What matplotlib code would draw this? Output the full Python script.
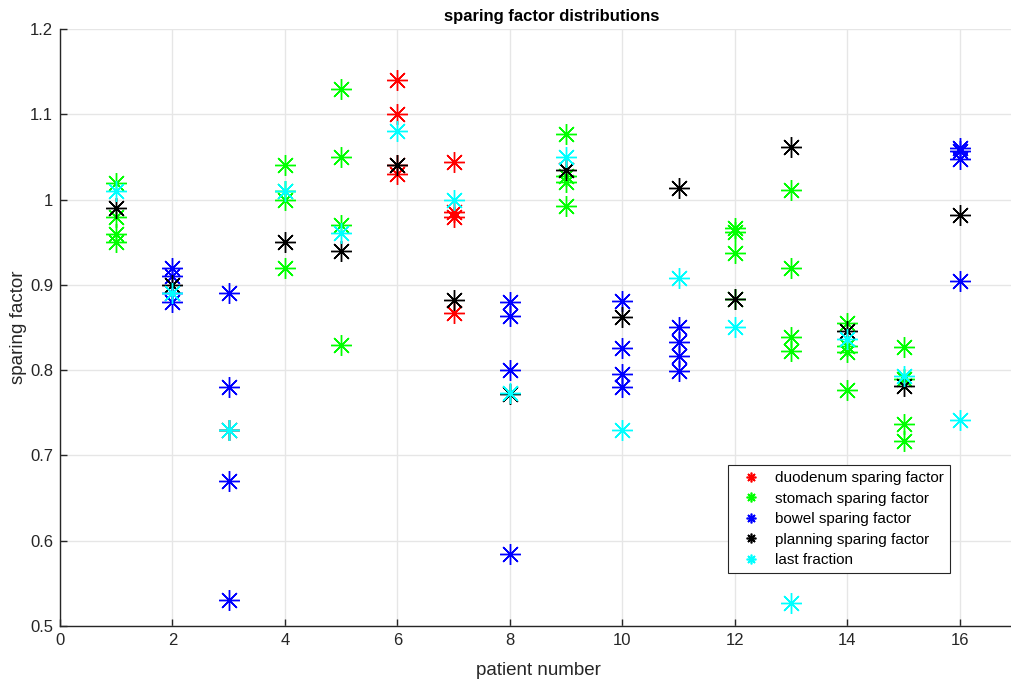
import matplotlib.pyplot as plt
from matplotlib.lines import Line2D

plt.rcParams['font.family'] = ['Liberation Sans', 'DejaVu Sans']

# sparing factors per patient
duodenum_patients = [6, 6, 6, 6, 7, 7, 7, 7]
duodenum_sf = [1.14, 1.10, 1.04, 1.03, 1.044, 0.985, 0.979, 0.867]

stomach_patients = [1, 1, 1, 1, 4, 4, 4, 4, 5, 5, 5, 5, 9, 9, 9, 9,
                    12, 12, 12, 12, 13, 13, 13, 13, 14, 14, 14, 14,
                    15, 15, 15, 15]
stomach_sf = [1.02, 0.98, 0.96, 0.95, 1.04, 1.01, 1.00, 0.92,
              1.13, 1.05, 0.97, 0.83, 1.077, 1.028, 1.021, 0.993,
              0.967, 0.962, 0.937, 0.883, 1.011, 0.92, 0.839, 0.822,
              0.855, 0.828, 0.821, 0.777, 0.827, 0.79, 0.737, 0.717]

bowel_patients = [2, 2, 2, 2, 3, 3, 3, 3, 8, 8, 8, 8, 10, 10, 10, 10,
                  11, 11, 11, 11, 16, 16, 16, 16]
bowel_sf = [0.92, 0.91, 0.89, 0.88, 0.89, 0.78, 0.67, 0.53,
            0.88, 0.864, 0.80, 0.584, 0.881, 0.826, 0.796, 0.78,
            0.851, 0.833, 0.817, 0.799, 1.061, 1.057, 1.047, 0.904]

patients = list(range(1, 17))
planning_sf = [0.99, 0.90, 0.73, 0.95, 0.94, 1.04, 0.882, 0.772,
               1.035, 0.862, 1.013, 0.883, 1.062, 0.846, 0.781, 0.982]
last_fraction_sf = [1.01, 0.891, 0.73, 1.01, 0.961, 1.08, 1.00, 0.773,
                    1.05, 0.73, 0.908, 0.851, 0.527, 0.836, 0.793, 0.741]

series = [
    (duodenum_patients, duodenum_sf, '#ff0000', 'duodenum sparing factor'),
    (stomach_patients, stomach_sf, '#00ff00', 'stomach sparing factor'),
    (bowel_patients, bowel_sf, '#0000ff', 'bowel sparing factor'),
    (patients, planning_sf, '#000000', 'planning sparing factor'),
    (patients, last_fraction_sf, '#00ffff', 'last fraction'),
]

asterisk = (8, 2, 0)  # 8 arm asterisk like matlab '*'

fig = plt.figure(figsize=(10.12, 6.82), dpi=100)
# axes run past the right edge of the figure, as in the original
ax = fig.add_axes([60 / 1012, 56 / 682, 956.25 / 1012, 597 / 682])

for xs, ys, color, label in series:
    ax.plot(xs, ys, linestyle='none', marker=asterisk, markersize=15,
            markeredgewidth=1.0, color=color, label=label)

ax.set_xlim(0, 17)
ax.set_ylim(0.5, 1.2)
ax.set_xticks(range(0, 17, 2))
ax.set_yticks([0.5, 0.6, 0.7, 0.8, 0.9, 1.0, 1.1, 1.2])
ax.set_yticklabels(['0.5', '0.6', '0.7', '0.8', '0.9', '1', '1.1', '1.2'])

ax.grid(True, color='#e6e6e6', linewidth=1.0)
ax.set_axisbelow(True)
for side in ['top', 'right']:
    ax.spines[side].set_visible(False)
for side in ['left', 'bottom']:
    ax.spines[side].set_color('#262626')
    ax.spines[side].set_linewidth(1.0)
ax.tick_params(direction='in', length=5, width=1.0, colors='#262626',
               labelsize=12, pad=5)

# the original axes are wider than the figure, so the title sits right of centre
ax.set_title('sparing factor distributions', fontsize=12, fontweight='bold',
             color='#000000', pad=6, x=0.5145)
ax.set_xlabel('patient number', fontsize=13.5, color='#262626', labelpad=10)
ax.set_ylabel('sparing factor', fontsize=13.5, color='#262626', labelpad=2)

handles = [Line2D([], [], linestyle='none', marker=asterisk, markersize=7,
                  markeredgewidth=1.2, color=c) for _, _, c, _ in series]
labels = [lab for _, _, _, lab in series]
leg = ax.legend(handles, labels, loc='upper left',
                bbox_to_anchor=(0.6986, 0.2697), fontsize=11,
                frameon=True, fancybox=False, framealpha=1,
                edgecolor='#262626', borderpad=0.4, labelspacing=0.43,
                handletextpad=0.5, handlelength=2.2, borderaxespad=0)
leg.get_frame().set_linewidth(0.8)

fig.savefig('out.png', dpi=100)
